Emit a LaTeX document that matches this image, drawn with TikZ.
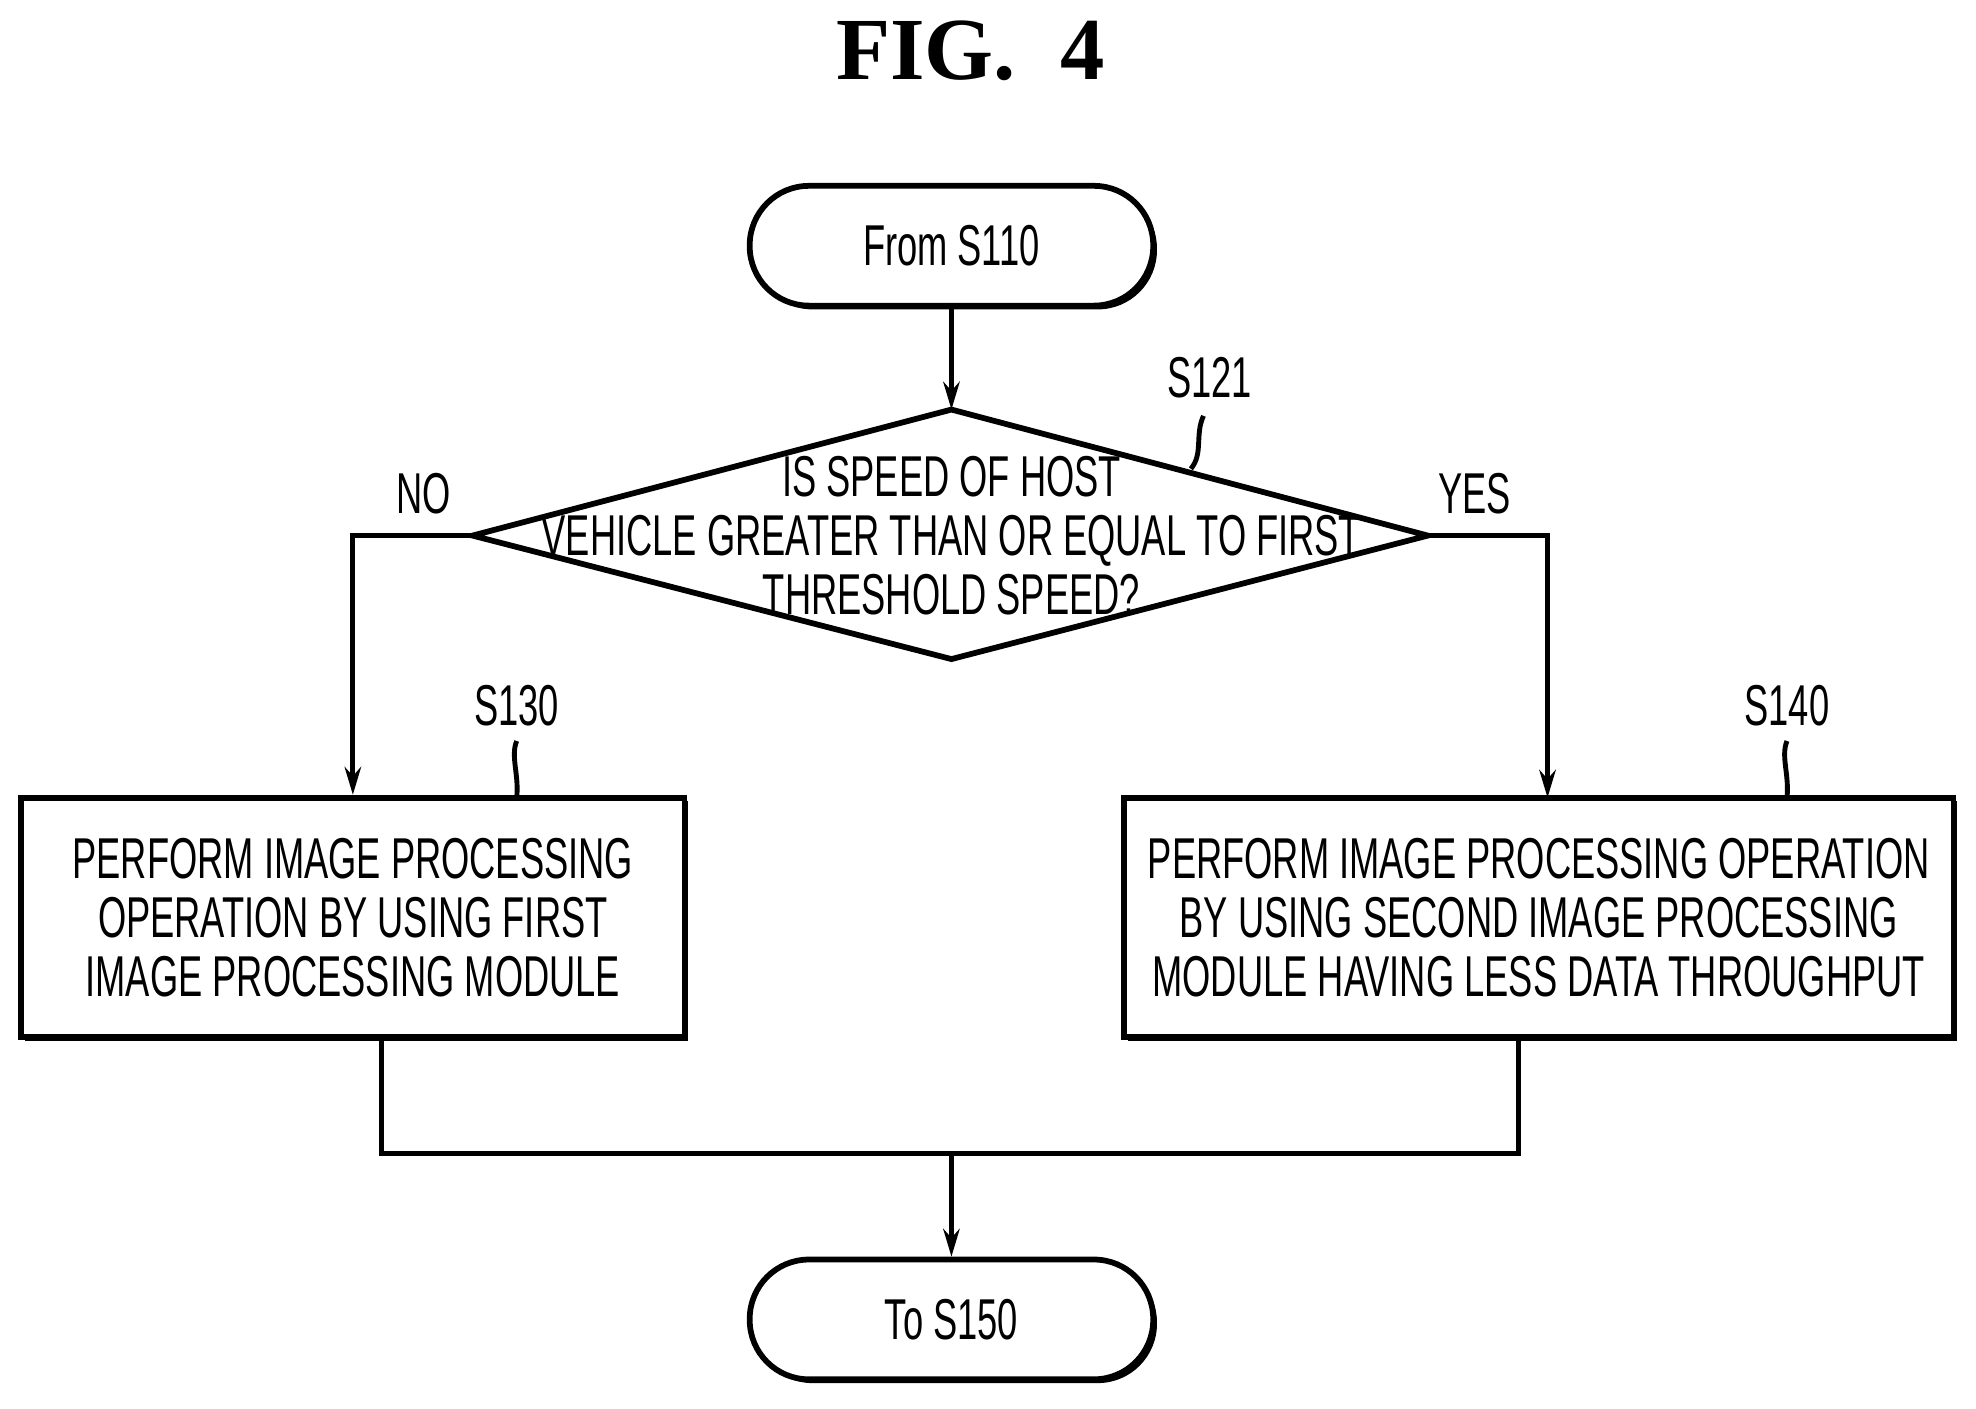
\documentclass[tikz,border=0pt]{standalone}
\usepackage{fontspec}
\setmainfont{Liberation Serif}
\newfontfamily\nf[FakeStretch=0.63]{Liberation Sans}
\usetikzlibrary{shapes.geometric,shadows,arrows.meta}
\begin{document}
\begin{tikzpicture}[x=0.01cm,y=-0.01cm,
  sh/.style={drop shadow={shadow xshift=0.03cm,shadow yshift=-0.03cm,fill=black,opacity=1}},
  term/.style={draw,line width=1.3pt,fill=white,rounded corners=0.47cm,minimum width=3.2cm,minimum height=0.95cm,sh,font=\nf\fontsize{13}{15}\selectfont},
  txt/.style={align=center,font=\nf\fontsize{13}{13.3}\selectfont,inner sep=0pt},
  box/.style={draw,line width=1.3pt,fill=white,sh,txt},
  lbl/.style={font=\nf\fontsize{13}{15}\selectfont},
  ln/.style={line width=1.1pt},
  arr/.style={ln,-{Stealth[length=0.22cm,width=0.13cm]}}]
\useasboundingbox (0,0) rectangle (1568,1118);
\node[font=\bfseries\fontsize{20}{22}\selectfont] (title) at (770,40) {FIG.\ \ 4};
\node[term] (start) at (755,195) {From S110};
\coordinate (dt) at (755,325); \coordinate (dl) at (375,425);
\coordinate (dr) at (1133,425); \coordinate (db) at (755,523);
\draw[line width=1.3pt] (dt) -- (dr) -- (db) -- (dl) -- cycle;
\node[txt] (q) at (755,425) {IS SPEED OF HOST\\VEHICLE GREATER THAN OR EQUAL TO FIRST\\THRESHOLD SPEED?};
\node[box,minimum width=5.26cm,minimum height=1.9cm] (b1) at (280,728) {PERFORM IMAGE PROCESSING\\OPERATION BY USING FIRST\\IMAGE PROCESSING MODULE};
\node[box,minimum width=6.58cm,minimum height=1.9cm] (b2) at (1221,728) {PERFORM IMAGE PROCESSING OPERATION\\BY USING SECOND IMAGE PROCESSING\\MODULE HAVING LESS DATA THROUGHPUT};
\node[term] (end) at (755,1047) {To S150};
\node[lbl] (s121) at (960,300) {S121};
\node[lbl] (no) at (336,392) {NO};
\node[lbl] (yes) at (1170,392) {YES};
\node[lbl] (s130) at (410,560) {S130};
\node[lbl] (s140) at (1418,560) {S140};
\draw[ln] (955,330) .. controls (948,345) and (955,360) .. (945,372);
\draw[ln] (410,588) .. controls (405,600) and (412,615) .. (410,633);
\draw[ln] (1418,588) .. controls (1413,600) and (1420,615) .. (1418,633);
\draw[arr] (start) -- (dt);
\draw[arr] (dl) -| (b1.north);
\coordinate (rt) at (1228,633);
\draw[arr] (dr) -| (rt);
\coordinate (m) at (755,915);
\draw[ln] (b1.south -| 303,0) |- (m) -| (b2.south -| 1205,0);
\draw[arr] (m) -- (end);
\end{tikzpicture}
\end{document}
